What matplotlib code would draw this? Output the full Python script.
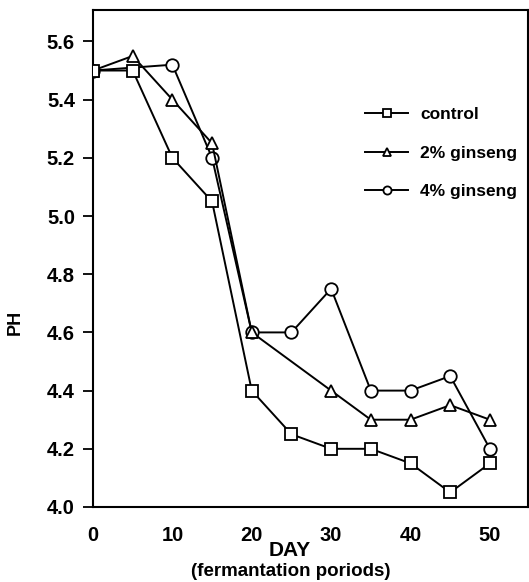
import matplotlib
matplotlib.use("Agg")
import matplotlib.pyplot as plt

plt.rcParams['font.family'] = ['Liberation Sans', 'DejaVu Sans']

# pH readings over fermentation days
days_control = [0, 5, 10, 15, 20, 25, 30, 35, 40, 45, 50]
ph_control = [5.50, 5.50, 5.20, 5.05, 4.40, 4.25, 4.20, 4.20, 4.15, 4.05, 4.15]

days_2pct = [0, 5, 10, 15, 20, 30, 35, 40, 45, 50]
ph_2pct = [5.50, 5.55, 5.40, 5.25, 4.60, 4.40, 4.30, 4.30, 4.35, 4.30]

days_4pct = [0, 10, 15, 20, 25, 30, 35, 40, 45, 50]
ph_4pct = [5.50, 5.52, 5.20, 4.60, 4.60, 4.75, 4.40, 4.40, 4.45, 4.20]

x_ticks = [0, 10, 20, 30, 40, 50]
y_ticks = [4.0, 4.2, 4.4, 4.6, 4.8, 5.0, 5.2, 5.4, 5.6]

fig = plt.figure(figsize=(5.29, 5.82), dpi=100)
ax = fig.add_axes([93 / 529, 1 - 507 / 582, 435 / 529, 497 / 582])

style = dict(color='black', lw=1.4, markerfacecolor='white',
             markeredgecolor='black', markeredgewidth=1.3, markersize=9)
ax.plot(days_4pct, ph_4pct, marker='o', label='4% ginseng', zorder=2, **style)
ax.plot(days_2pct, ph_2pct, marker='^', label='2% ginseng', zorder=3, **style)
ax.plot(days_control, ph_control, marker='s', label='control', zorder=4,
        **{**style, 'markersize': 8})

ax.set_xlim(0, 54.8)
ax.set_ylim(4.0, 5.708)
ax.set_xticks(x_ticks)
ax.set_yticks(y_ticks)
ax.set_yticklabels([f"{v:.1f}" for v in y_ticks], fontsize=14.5, fontweight='bold')
ax.set_xticklabels([str(v) for v in x_ticks], fontsize=14.5, fontweight='bold')
ax.tick_params(axis='y', direction='out', length=7, width=1.3, pad=6)
ax.tick_params(axis='x', direction='out', length=0, pad=14)
for s in ax.spines.values():
    s.set_linewidth(1.5)

fig.text(290 / 529, 1 - 550 / 582, 'DAY', ha='center', va='center',
         fontsize=15, fontweight='bold')
fig.text(291 / 529, 1 - 571 / 582, '(fermantation poriods)', ha='center',
         va='center', fontsize=13.5, fontweight='bold')
fig.text(15 / 529, 1 - 322 / 582, 'PH', ha='center', va='center',
         rotation=90, fontsize=13, fontweight='bold')

handles, labels = ax.get_legend_handles_labels()
order = [2, 1, 0]
leg = ax.legend([handles[i] for i in order], [labels[i] for i in order],
                loc='upper left', bbox_to_anchor=(0.625, 0.805), frameon=False,
                handlelength=2.5, handletextpad=0.7, labelspacing=1.35,
                markerscale=0.65, fontsize=12.5, borderpad=0, borderaxespad=0)
for t in leg.get_texts():
    t.set_fontweight('bold')

fig.savefig('out.png', dpi=100)
